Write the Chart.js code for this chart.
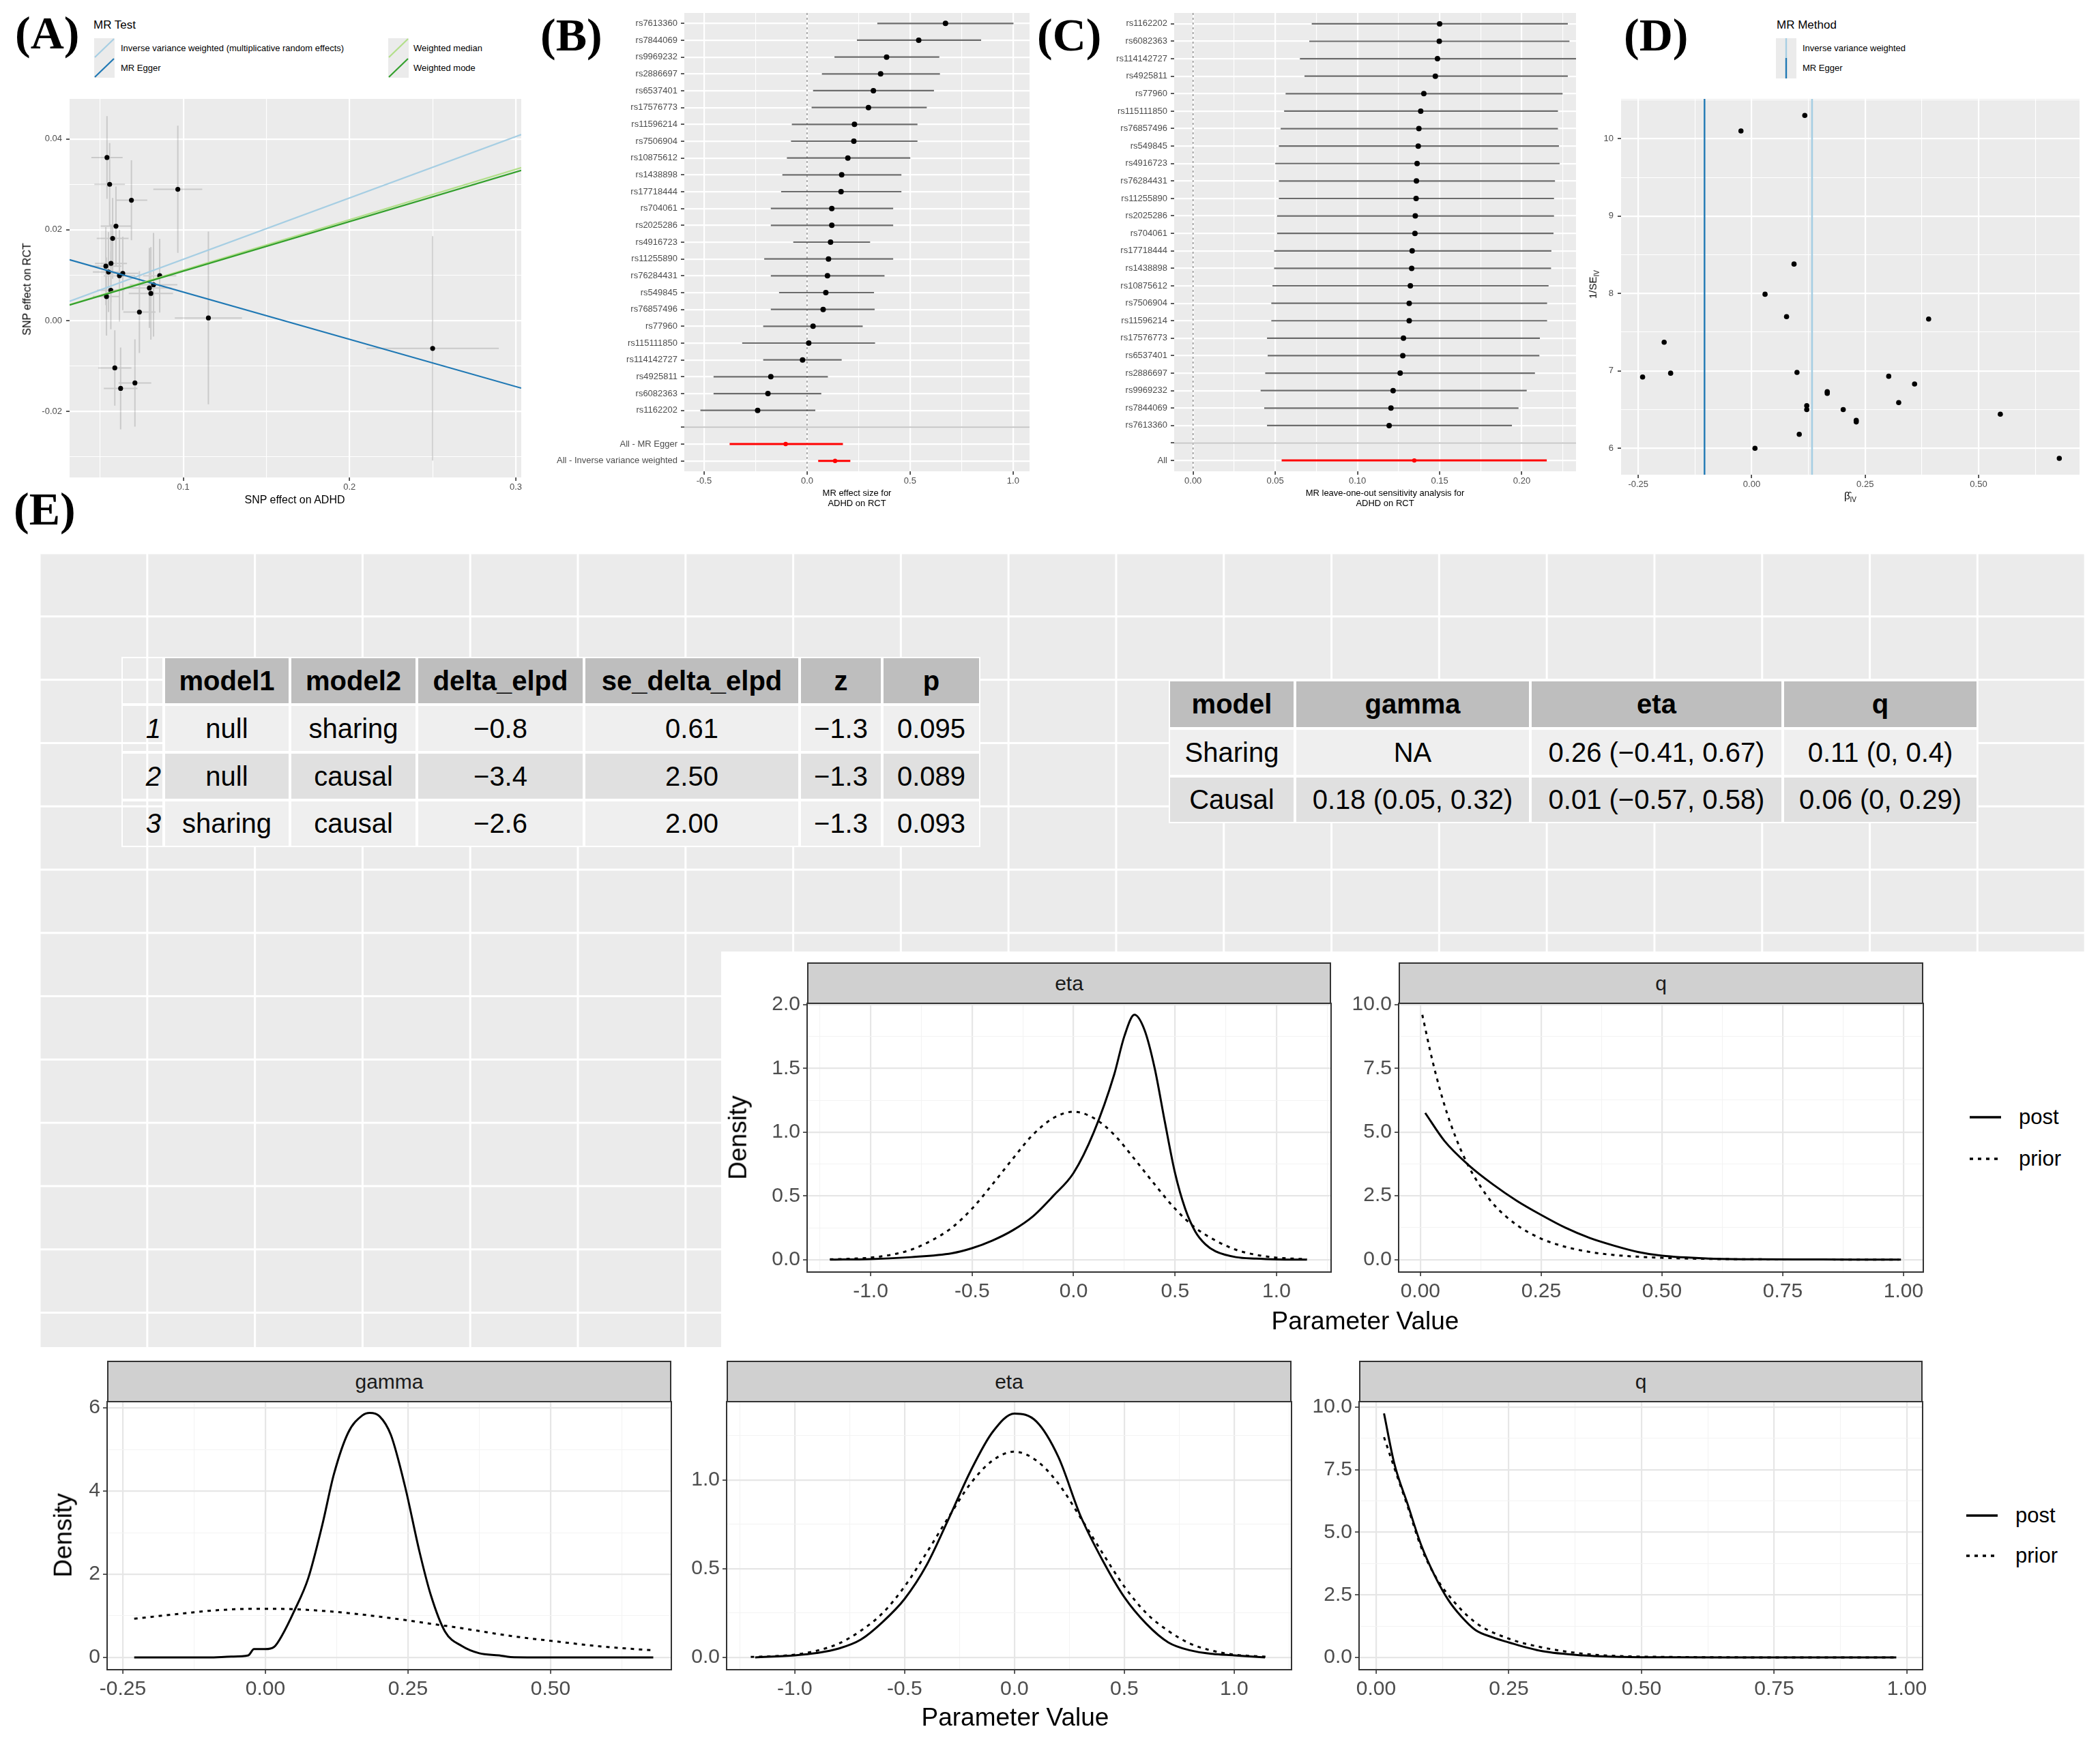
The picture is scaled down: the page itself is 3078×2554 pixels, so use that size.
<!DOCTYPE html>
<html>
<head>
<meta charset="utf-8">
<title>MR analysis of ADHD on RCT</title>
<script src="https://cdn.jsdelivr.net/npm/chart.js@4.4.1/dist/chart.umd.min.js"></script>
<style>
  html, body { margin: 0; padding: 0; background: #fff; }
  #page { position: relative; width: 3078px; height: 2554px; overflow: hidden; background: #fff;
          font-family: "Liberation Sans", Arial, Helvetica, sans-serif; }
  #page canvas { position: absolute; }
  .panel-e { position: absolute; left: 58px; top: 811px; width: 2998px; height: 1206px; background-color: #ebebeb;
    background-image: linear-gradient(to right, #fff 3px, transparent 3px), linear-gradient(to bottom, #fff 3px, transparent 3px);
    background-size: 157.8px 92.8px; background-position: -1.5px -1.5px; }
  .white { position: absolute; background: #fff; }
</style>
</head>
<body>
<div id="page">
  <div class="panel-e"></div>
  <div class="white" style="left:1057px;top:1395px;width:2021px;height:585px;"></div>
  <div class="white" style="left:0;top:1975px;width:3078px;height:579px;"></div>
</div>
<script>
/* ==========================================================================
   MR figure: scatter (A), forest (B), leave-one-out (C), funnel (D), CAUSE (E)
   ========================================================================== */

// --- (A) SNP effects: exposure (ADHD) vs outcome (RCT) ---
const aBx  = [0.0541,0.0557,0.0688,0.0967,0.0595,0.0575,0.0534,0.0565,0.0550,0.0616,0.0636,0.0564,0.0538,0.0858,0.0821,0.0796,0.0805,0.0736,0.1151,0.2500,0.0588,0.0709,0.0623];
const aBy  = [0.0359,0.0300,0.0265,0.0289,0.0208,0.0181,0.0120,0.0126,0.0107,0.0099,0.0104,0.0067,0.0053,0.0099,0.0079,0.0072,0.0060,0.0019,0.0006,-0.0061,-0.0104,-0.0137,-0.0149];
const aSeX = [0.0094,0.0092,0.0095,0.0147,0.0092,0.0096,0.0094,0.0096,0.0094,0.0095,0.0094,0.0082,0.0082,0.0100,0.0143,0.0133,0.0133,0.0097,0.0202,0.0398,0.0100,0.0098,0.0101];
const aSeY = [0.0091,0.0091,0.0088,0.0140,0.0087,0.0089,0.0086,0.0086,0.0088,0.0101,0.0081,0.0086,0.0086,0.0081,0.0114,0.0088,0.0102,0.0090,0.0190,0.0247,0.0083,0.0096,0.0090];
const mrNames      = ['Inverse variance weighted (multiplicative random effects)', 'MR Egger', 'Weighted median', 'Weighted mode'];
const mrColors     = ['#a6cee3', '#1f78b4', '#b2df8a', '#33a02c'];
const mrSlopes     = [0.135, -0.104, 0.111, 0.109];
const mrIntercepts = [0, 0.0167, 0, 0];
const aXTicks = [0.1, 0.2, 0.3];
const aXLabels = ['0.1', '0.2', '0.3'];
const aYTicks = [-0.02, 0, 0.02, 0.04];
const aYLabels = ['-0.02', '0.00', '0.02', '0.04'];

// --- (B) single-SNP forest ---
const bLabels = ['rs7613360','rs7844069','rs9969232','rs2886697','rs6537401','rs17576773','rs11596214','rs7506904','rs10875612','rs1438898','rs17718444','rs704061','rs2025286','rs4916723','rs11255890','rs76284431','rs549845','rs76857496','rs77960','rs115111850','rs114142727','rs4925811','rs6082363','rs1162202','','All - MR Egger','All - Inverse variance weighted'];
const bEst = [0.672,0.542,0.386,0.357,0.322,0.298,0.230,0.227,0.198,0.168,0.165,0.120,0.120,0.114,0.104,0.099,0.091,0.078,0.029,0.008,-0.022,-0.176,-0.190,-0.240,null,-0.104,0.136];
const bLo  = [0.341,0.242,0.133,0.072,0.029,0.022,-0.074,-0.078,-0.098,-0.120,-0.126,-0.176,-0.176,-0.067,-0.208,-0.176,-0.136,-0.176,-0.213,-0.315,-0.213,-0.454,-0.454,-0.518,null,-0.376,0.054];
const bHi  = [1.002,0.845,0.642,0.645,0.616,0.581,0.536,0.536,0.501,0.458,0.458,0.418,0.418,0.306,0.418,0.376,0.325,0.328,0.270,0.330,0.168,0.101,0.069,0.040,null,0.174,0.210];
const bXTicks = [-0.5, 0, 0.5, 1.0];
const bXLabels = ['-0.5', '0.0', '0.5', '1.0'];

// --- (C) leave-one-out ---
const cLabels = ['rs1162202','rs6082363','rs114142727','rs4925811','rs77960','rs115111850','rs76857496','rs549845','rs4916723','rs76284431','rs11255890','rs2025286','rs704061','rs17718444','rs1438898','rs10875612','rs7506904','rs11596214','rs17576773','rs6537401','rs2886697','rs9969232','rs7844069','rs7613360','','All'];
const cEst = [0.1500,0.1498,0.1487,0.1474,0.1404,0.1385,0.1374,0.1370,0.1363,0.1359,0.1357,0.1352,0.1350,0.1333,0.1330,0.1322,0.1315,0.1315,0.1280,0.1276,0.1260,0.1217,0.1204,0.1193,null,0.1346];
const cLo  = [0.0722,0.0707,0.0650,0.0678,0.0563,0.0554,0.0533,0.0522,0.0500,0.0522,0.0522,0.0511,0.0511,0.0493,0.0493,0.0483,0.0476,0.0476,0.0450,0.0454,0.0439,0.0411,0.0433,0.0450,null,0.0539];
const cHi  = [0.2280,0.2290,0.2360,0.2280,0.2248,0.2220,0.2220,0.2226,0.2230,0.2202,0.2196,0.2196,0.2193,0.2180,0.2178,0.2163,0.2154,0.2154,0.2110,0.2107,0.2080,0.2030,0.1980,0.1940,null,0.2152];
const cXTicks = [0, 0.05, 0.1, 0.15, 0.2];
const cXLabels = ['0.00', '0.05', '0.10', '0.15', '0.20'];

// --- (D) funnel ---
const dBetaIV = [-0.0237,0.117,0.0933,0.0294,0.0768,0.390,-0.193,-0.2405,-0.1787,0.0998,0.302,0.359,0.1665,0.1665,0.324,0.1213,0.1213,0.2017,0.2304,0.2304,0.1048,0.548,0.0072,0.678];
const dInvSE  = [10.10,10.30,8.38,7.99,7.70,7.67,7.37,6.92,6.97,6.98,6.93,6.83,6.71,6.73,6.59,6.55,6.50,6.50,6.36,6.34,6.18,6.44,6.00,5.87];
const dMethodNames  = ['Inverse variance weighted', 'MR Egger'];
const dMethodColors = ['#a6cee3', '#1f78b4'];
const dMethodEst    = [0.133, -0.104];
const dXTicks = [-0.25, 0, 0.25, 0.5];
const dXLabels = ['-0.25', '0.00', '0.25', '0.50'];
const dYTicks = [6, 7, 8, 9, 10];
const dYLabels = ['6', '7', '8', '9', '10'];

// --- (E) CAUSE model comparison and estimates ---
const cmpModel1 = ['null', 'null', 'sharing'];
const cmpModel2 = ['sharing', 'causal', 'causal'];
const cmpDeltaElpd = [-0.8, -3.4, -2.6];
const cmpSeDeltaElpd = [0.61, 2.50, 2.00];
const cmpZ = [-1.3, -1.3, -1.3];
const cmpP = [0.095, 0.089, 0.093];
const estModels = ['Sharing', 'Causal'];
const estGamma = [null, [0.18, 0.05, 0.32]];
const estEta = [[0.26, -0.41, 0.67], [0.01, -0.57, 0.58]];
const estQ = [[0.11, 0, 0.4], [0.06, 0, 0.29]];

// sharing model densities
const etaPostX1 = [-1.2,-1.0,-0.8,-0.6,-0.5,-0.4,-0.3,-0.2,-0.1,0.0,0.1,0.2,0.25,0.3,0.35,0.4,0.45,0.5,0.55,0.6,0.65,0.7,0.8,0.9,1.0,1.15];
const etaPostY1 = [0.0,0.005,0.02,0.05,0.09,0.15,0.23,0.34,0.5,0.68,1.0,1.45,1.75,1.92,1.80,1.50,1.08,0.68,0.40,0.22,0.12,0.065,0.02,0.008,0.002,0.0];
const etaPriorX = [-1.2,-1.1,-1.0,-0.9,-0.8,-0.7,-0.6,-0.5,-0.4,-0.3,-0.2,-0.1,0.0,0.1,0.2,0.3,0.4,0.5,0.6,0.7,0.8,0.9,1.0,1.1,1.15];
const etaPriorY = [0.003,0.007,0.016,0.038,0.078,0.15,0.25,0.40,0.59,0.79,0.98,1.11,1.16,1.11,0.98,0.79,0.59,0.40,0.25,0.15,0.078,0.038,0.016,0.007,0.004];
const qPostX1  = [0.01,0.05,0.1,0.15,0.2,0.25,0.3,0.35,0.4,0.45,0.5,0.6,0.7,0.8,0.9,0.99];
const qPostY1  = [5.75,4.65,3.7,2.95,2.3,1.75,1.25,0.85,0.55,0.3,0.15,0.04,0.01,0.003,0.001,0.0];
const qPriorX1 = [0.004,0.025,0.05,0.075,0.1,0.125,0.15,0.2,0.25,0.3,0.35,0.4,0.5,0.6,0.7,0.8,0.9,1.0];
const qPriorY1 = [9.6,7.8,6.05,4.7,3.65,2.85,2.2,1.35,0.82,0.5,0.3,0.18,0.07,0.025,0.009,0.003,0.001,0.0];

// causal model densities
const gammaPostX  = [-0.23,-0.1,-0.06,-0.03,-0.02,0.0,0.015,0.03,0.05,0.075,0.1,0.12,0.145,0.17,0.183,0.2,0.22,0.245,0.27,0.29,0.315,0.345,0.375,0.41,0.43,0.5,0.68];
const gammaPostY  = [0,0,0.02,0.05,0.2,0.2,0.25,0.55,1.1,1.9,3.2,4.4,5.4,5.82,5.88,5.8,5.35,4.1,2.55,1.5,0.62,0.27,0.1,0.05,0.01,0,0];
const gammaPriorX = [-0.23,-0.15,-0.1,-0.05,0,0.05,0.1,0.15,0.2,0.25,0.3,0.35,0.4,0.45,0.5,0.55,0.6,0.68];
const gammaPriorY = [0.93,1.05,1.12,1.16,1.17,1.16,1.12,1.06,0.98,0.89,0.79,0.69,0.58,0.48,0.40,0.32,0.25,0.17];
const etaPostX2 = [-1.18,-1.0,-0.9,-0.8,-0.7,-0.6,-0.5,-0.4,-0.3,-0.2,-0.1,0.0,0.1,0.2,0.3,0.4,0.5,0.6,0.7,0.8,0.9,1.0,1.14];
const etaPostY2 = [0,0.012,0.025,0.05,0.1,0.2,0.33,0.52,0.78,1.05,1.27,1.375,1.33,1.13,0.8,0.55,0.34,0.19,0.085,0.04,0.02,0.012,0];
const qPostX2  = [0.015,0.034,0.06,0.085,0.11,0.136,0.16,0.187,0.22,0.25,0.313,0.39,0.466,0.55,0.7,0.85,0.98];
const qPostY2  = [9.75,7.78,6.09,4.49,3.29,2.3,1.65,1.1,0.8,0.6,0.25,0.08,0.02,0.005,0,0,0];
const qPriorX2 = [0.015,0.034,0.06,0.085,0.11,0.136,0.187,0.25,0.313,0.39,0.466,0.55,0.7,0.85,0.98];
const qPriorY2 = [8.8,7.6,6.0,4.4,3.3,2.5,1.4,0.75,0.4,0.15,0.05,0.02,0.003,0,0];

const etaXTicks = [-1, -0.5, 0, 0.5, 1];
const etaXLabels = ['-1.0', '-0.5', '0.0', '0.5', '1.0'];
const qXTicks = [0, 0.25, 0.5, 0.75, 1];
const qXLabels = ['0.00', '0.25', '0.50', '0.75', '1.00'];
const qYTicks = [0, 2.5, 5, 7.5, 10];
const qYLabels = ['0.0', '2.5', '5.0', '7.5', '10.0'];

// --- Setup ---
const FONT = '"Liberation Sans", Arial, Helvetica, sans-serif';
Chart.defaults.font.family = FONT;
const page = document.getElementById('page');

// fills the plotting area and draws the theme_bw frame
const panelDeco = {
  id: 'panelDeco',
  beforeDraw(ch, args, o) {
    if (!o.fill) return;
    const { ctx, chartArea: a } = ch;
    ctx.save(); ctx.fillStyle = o.fill;
    ctx.fillRect(a.left, a.top, a.right - a.left, a.bottom - a.top);
    ctx.restore();
  },
  afterDraw(ch, args, o) {
    if (!o.frame) return;
    const { ctx, chartArea: a } = ch;
    ctx.save(); ctx.strokeStyle = o.frame; ctx.lineWidth = 2;
    ctx.strokeRect(a.left, a.top, a.right - a.left, a.bottom - a.top);
    ctx.restore();
  }
};
Chart.register(panelDeco);

function el(tag, css, html) {
  const e = document.createElement(tag);
  e.style.cssText = 'position:absolute;' + css;
  if (html != null) e.innerHTML = html;
  page.appendChild(e);
  return e;
}

function txt(html, x, y, o = {}) {
  const ax = o.align === 'left' ? '0' : o.align === 'right' ? '-100%' : '-50%';
  const rot = o.rot ? ` rotate(${o.rot}deg)` : '';
  return el('div', `left:${x}px;top:${y}px;white-space:nowrap;font-size:${o.size || 13}px;color:${o.color || '#000'};` +
    `line-height:${o.lh || 1.15};font-family:${o.family || FONT};font-weight:${o.weight || 'normal'};text-align:center;` +
    `transform-origin:center;transform:translate(${ax},-50%)${rot};`, html);
}

function panelLabel(s, x, y) {
  el('div', `left:${x}px;top:${y}px;font:bold 68px/68px "Liberation Serif","Times New Roman",serif;color:#000;`, s);
}

function svgAt(x, y, w, h, inner) {
  el('div', `left:${x}px;top:${y}px;width:${w}px;height:${h}px;`,
    `<svg width="${w}" height="${h}" xmlns="http://www.w3.org/2000/svg">${inner}</svg>`);
}

// tick list with ggplot-style minor breaks between majors
function tickList(majors, labels, minorStep, lo, hi) {
  const out = majors.map((v, i) => ({ value: v, lab: labels[i], minor: false }));
  if (minorStep) {
    const k0 = Math.ceil((lo - majors[0]) / minorStep - 1e-9);
    const k1 = Math.floor((hi - majors[0]) / minorStep + 1e-9);
    for (let k = k0; k <= k1; k++) {
      if (k % 2 === 0) continue;
      out.push({ value: majors[0] + k * minorStep, lab: '', minor: true });
    }
  }
  return out.sort((a, b) => a.value - b.value);
}

const GRAY_THEME = { font: 13, color: '#4d4d4d', tickColor: '#333333', tl: 5, majorColor: '#ffffff', minorColor: '#ffffff', majorW: 2.2, minorW: 1.1 };
const BW_THEME   = { font: 30, color: '#4d4d4d', tickColor: '#333333', tl: 6, majorColor: '#e6e6e6', minorColor: '#f3f3f3', majorW: 2.2, minorW: 1.1 };

function axis(theme, o) {
  const t = Object.assign({}, theme, o);
  const list = t.list;
  return {
    type: 'linear', min: t.min, max: t.max, reverse: !!t.reverse,
    afterBuildTicks: s => { s.ticks = list.map(k => ({ value: k.value, lab: k.lab, minor: k.minor })); },
    afterFit: s => { if (s.isHorizontal()) s.height = t.size; else s.width = t.size; },
    ticks: {
      autoSkip: false, maxRotation: 0, minRotation: 0, includeBounds: false, padding: t.pad,
      color: t.color, font: { size: t.font, family: FONT },
      callback: (v, i, arr) => (arr[i] ? arr[i].lab : '')
    },
    grid: {
      color: c => (c.tick && c.tick.minor) ? t.minorColor : t.majorColor,
      lineWidth: c => (c.tick && c.tick.minor) ? t.minorW : t.majorW,
      tickColor: c => (c.tick && c.tick.minor) ? 'rgba(0,0,0,0)' : t.tickColor,
      tickLength: t.tl, tickWidth: 1.6, drawTicks: true
    },
    border: { display: false }
  };
}

// box = plotting area in page pixels, pad = room for axes around it
function plot(box, pad, datasets, xAxis, yAxis, deco) {
  const W = box.r - box.l + pad.l + pad.r;
  const H = box.b - box.t + pad.t + pad.b;
  const cv = document.createElement('canvas');
  cv.width = W; cv.height = H;
  cv.style.cssText = `left:${box.l - pad.l}px;top:${box.t - pad.t}px;width:${W}px;height:${H}px;`;
  page.appendChild(cv);
  xAxis.afterFit = s => { s.height = pad.b; };
  yAxis.afterFit = s => { s.width = pad.l; };
  return new Chart(cv, {
    type: 'scatter',
    data: { datasets },
    options: {
      responsive: false, animation: false, events: [],
      layout: { padding: { left: 0, top: pad.t, right: pad.r, bottom: 0 } },
      plugins: { legend: { display: false }, tooltip: { enabled: false }, panelDeco: deco },
      scales: { x: xAxis, y: yAxis }
    }
  });
}

const GAP = { x: null, y: null };
function lineSet(data, color, width, extra) {
  return Object.assign({ data, showLine: true, borderColor: color, borderWidth: width, pointRadius: 0, tension: 0, fill: false }, extra || {});
}
function pointSet(data, color, r, extra) {
  return Object.assign({ data, showLine: false, pointRadius: r, pointBackgroundColor: color, pointBorderColor: color, pointBorderWidth: 0 }, extra || {});
}

// --- (A) MR scatter ---
(function () {
  const box = { l: 102, t: 145, r: 764, b: 700 };
  const xMin = 0.0316, xMax = 0.3033, yMin = -0.0345, yMax = 0.0488;
  const bars = [];
  aBx.forEach((x, i) => {
    const y = aBy[i];
    bars.push({ x: x - aSeX[i], y }, { x: x + aSeX[i], y }, GAP, { x, y: y - aSeY[i] }, { x, y: y + aSeY[i] }, GAP);
  });
  const sets = [
    lineSet(bars, 'rgba(70,70,70,0.2)', 2, { order: 3 }),
    pointSet(aBx.map((x, i) => ({ x, y: aBy[i] })), '#000', 3.6, { order: 2 })
  ];
  mrNames.forEach((n, k) => {
    sets.push(lineSet([{ x: xMin, y: mrIntercepts[k] + mrSlopes[k] * xMin }, { x: xMax, y: mrIntercepts[k] + mrSlopes[k] * xMax }],
      mrColors[k], 2.2, { order: 1 - k * 0.1 }));
  });
  plot(box, { l: 60, t: 15, r: 20, b: 30 }, sets,
    axis(GRAY_THEME, { min: xMin, max: xMax, pad: 2, list: tickList(aXTicks, aXLabels, 0.05, xMin, xMax) }),
    axis(GRAY_THEME, { min: yMin, max: yMax, pad: 6, list: tickList(aYTicks, aYLabels, 0.01, yMin, yMax) }),
    { fill: '#ebebeb' });

  txt('SNP effect on ADHD', 432, 733, { size: 16 });
  txt('SNP effect on RCT', 40, 424, { size: 16, rot: -90 });
  // legend
  txt('MR Test', 137, 37, { size: 17, align: 'left' });
  const keyX = [138, 138, 569, 569], keyY = [56, 85, 56, 85], textX = [177, 177, 606, 606];
  mrNames.forEach((n, k) => {
    svgAt(keyX[k], keyY[k], 30, 29, `<rect width="30" height="29" fill="#ebebeb"/><line x1="1" y1="28" x2="29" y2="1" stroke="${mrColors[k]}" stroke-width="2.2"/>`);
    txt(n, textX[k], keyY[k] + 15, { size: 13, align: 'left' });
  });
})();

// --- (B) and (C) forest plots ---
function forest(box, pad, labels, est, lo, hi, xMin, xMax, yMin, yMax, xTicks, xLabels, minorStep) {
  const bars = [], sumBars = [], pts = [], sumPts = [];
  labels.forEach((lab, i) => {
    if (est[i] === null) return;
    const isSum = lab.indexOf('All') === 0;
    (isSum ? sumBars : bars).push({ x: lo[i], y: i }, { x: hi[i], y: i }, GAP);
    (isSum ? sumPts : pts).push({ x: est[i], y: i });
  });
  const sep = labels.indexOf('');
  const sets = [
    lineSet([{ x: 0, y: yMin }, { x: 0, y: yMax }], '#8a8a8a', 1.4, { borderDash: [3, 4], order: 6 }),
    lineSet([{ x: xMin, y: sep }, { x: xMax, y: sep }], '#c4c4c4', 2, { order: 5 }),
    lineSet(bars, 'rgba(70,70,70,0.8)', 2.2, { order: 4 }),
    pointSet(pts, '#000', 4, { order: 3 }),
    lineSet(sumBars, '#ff0000', 3, { order: 2 }),
    pointSet(sumPts, '#ff0000', 3.2, { order: 1 })
  ];
  plot(box, pad, sets,
    axis(GRAY_THEME, { min: xMin, max: xMax, pad: 2, list: tickList(xTicks, xLabels, minorStep, xMin, xMax) }),
    axis(GRAY_THEME, { min: yMin, max: yMax, pad: 5, reverse: true, list: labels.map((l, i) => ({ value: i, lab: l, minor: false })) }),
    { fill: '#ebebeb' });
}

forest({ l: 1003, t: 19, r: 1509, b: 691 }, { l: 215, t: 15, r: 10, b: 25 },
  bLabels, bEst, bLo, bHi, -0.596, 1.080, -0.62, 26.62, bXTicks, bXLabels, 0.25);
txt('MR effect size for<br>ADHD on RCT', 1256, 730, { size: 13, lh: '15px' });

forest({ l: 1721, t: 19, r: 2310, b: 691 }, { l: 110, t: 15, r: 10, b: 25 },
  cLabels, cEst, cLo, cHi, -0.0115, 0.233, -0.62, 25.62, cXTicks, cXLabels, 0.025);
txt('MR leave-one-out sensitivity analysis for<br>ADHD on RCT', 2030, 730, { size: 13, lh: '15px' });

// --- (D) funnel ---
(function () {
  const box = { l: 2376, t: 145, r: 3048, b: 696 };
  const xMin = -0.288, xMax = 0.7226, yMin = 5.658, yMax = 10.514;
  const sets = [pointSet(dBetaIV.map((x, i) => ({ x, y: dInvSE[i] })), '#000', 3.8, { order: 0 })];
  dMethodEst.forEach((v, k) => {
    sets.push(lineSet([{ x: v, y: yMin }, { x: v, y: yMax }], dMethodColors[k], k === 0 ? 2.6 : 2.4, { order: 1 + k }));
  });
  plot(box, { l: 30, t: 15, r: 20, b: 25 }, sets,
    axis(GRAY_THEME, { min: xMin, max: xMax, pad: 2, list: tickList(dXTicks, dXLabels, 0.125, xMin, xMax) }),
    axis(GRAY_THEME, { min: yMin, max: yMax, pad: 6, list: tickList(dYTicks, dYLabels, 0.5, yMin, yMax) }),
    { fill: '#ebebeb' });
  txt('β&#770;<sub style="font-size:10px">IV</sub>', 2712, 728, { size: 15 });
  txt('1/SE<sub style="font-size:10px">IV</sub>', 2336, 417, { size: 15, rot: -90 });
  txt('MR Method', 2604, 37, { size: 17, align: 'left' });
  const keyY = [56, 85];
  dMethodNames.forEach((n, k) => {
    svgAt(2603, keyY[k], 30, 30, `<rect width="30" height="30" fill="#ebebeb"/><line x1="15" y1="0" x2="15" y2="30" stroke="${dMethodColors[k]}" stroke-width="2.4"/>`);
    txt(n, 2642, keyY[k] + 15, { size: 13, align: 'left' });
  });
})();

// --- (E) tables ---
const fmt = v => String(v).replace('-', '\u2212');
const fmtCI = t => t === null ? 'NA' : `${fmt(t[0])} (${fmt(t[1])}, ${fmt(t[2])})`;

function gridTable(xb, yb, cells) {
  cells.forEach((row, j) => row.forEach((c, i) => {
    el('div', `left:${xb[i]}px;top:${yb[j]}px;width:${xb[i + 1] - xb[i]}px;height:${yb[j + 1] - yb[j]}px;box-sizing:border-box;` +
      `border:2px solid #fff;background:${c.bg};display:flex;align-items:center;justify-content:${c.right ? 'flex-end' : 'center'};` +
      `padding-right:${c.right ? 2 : 0}px;font-size:40px;color:#000;white-space:nowrap;font-weight:${c.bold ? 'bold' : 'normal'};` +
      `font-style:${c.italic ? 'italic' : 'normal'};`, c.t);
  }));
}

(function () {
  const HEAD = '#bebebe', ODD = '#efefef', EVEN = '#e0e0e0';
  const head = ['', 'model1', 'model2', 'delta_elpd', 'se_delta_elpd', 'z', 'p']
    .map((t, i) => ({ t, bg: i === 0 ? 'transparent' : HEAD, bold: true }));
  const rows = cmpModel1.map((m, j) => {
    const bg = j % 2 === 0 ? ODD : EVEN;
    return [
      { t: String(j + 1), bg: 'transparent', italic: true, right: true },
      { t: m, bg }, { t: cmpModel2[j], bg },
      { t: fmt(cmpDeltaElpd[j].toFixed(1)), bg },
      { t: cmpSeDeltaElpd[j].toFixed(2), bg },
      { t: fmt(cmpZ[j].toFixed(1)), bg },
      { t: cmpP[j].toFixed(3), bg }
    ];
  });
  gridTable([178, 240, 425, 611, 856, 1172, 1293, 1437], [963, 1033, 1103, 1173, 1242], [head].concat(rows));

  const head2 = ['model', 'gamma', 'eta', 'q'].map(t => ({ t, bg: HEAD, bold: true }));
  const rows2 = estModels.map((m, j) => {
    const bg = j % 2 === 0 ? ODD : EVEN;
    return [{ t: m, bg }, { t: fmtCI(estGamma[j]), bg }, { t: fmtCI(estEta[j]), bg }, { t: fmtCI(estQ[j]), bg }];
  });
  gridTable([1713, 1898, 2243, 2613, 2899], [997, 1068, 1138, 1207], [head2].concat(rows2));
})();

// --- (E) densities ---
const xy = (xs, ys) => xs.map((x, i) => ({ x, y: ys[i] }));

function density(box, label, xCfg, yCfg, post, prior) {
  el('div', `left:${box.l}px;top:${box.t - 60}px;width:${box.r - box.l}px;height:60px;box-sizing:border-box;background:#d0d0d0;` +
    `border:2px solid #333;border-bottom:none;display:flex;align-items:center;justify-content:center;font-size:30px;color:#1a1a1a;`, label);
  const sets = [
    lineSet(post, '#000', 3, { cubicInterpolationMode: 'monotone', order: 0 }),
    lineSet(prior, '#000', 3, { cubicInterpolationMode: 'monotone', borderDash: [5, 7], order: 1 })
  ];
  plot(box, { l: 110, t: 25, r: 12, b: 60 }, sets,
    axis(BW_THEME, Object.assign({ pad: 5 }, xCfg)),
    axis(BW_THEME, Object.assign({ pad: 4 }, yCfg)),
    { frame: '#333333' });
}

function legendLT(x, y1, y2) {
  svgAt(x, y1 - 10, 46, 20, '<line x1="0" y1="10" x2="46" y2="10" stroke="#000" stroke-width="3.5"/>');
  svgAt(x, y2 - 10, 46, 20, '<line x1="0" y1="10" x2="46" y2="10" stroke="#000" stroke-width="3.5" stroke-dasharray="5 7"/>');
  txt('post', x + 72, y1, { size: 31, align: 'left' });
  txt('prior', x + 72, y2, { size: 31, align: 'left' });
}

// sharing model (top)
density({ l: 1183, t: 1471, r: 1951, b: 1865 }, 'eta',
  { min: -1.3126, max: 1.269, list: tickList(etaXTicks, etaXLabels, 0.25, -1.3126, 1.269) },
  { min: -0.097, max: 2.01, list: tickList([0, 0.5, 1, 1.5, 2], ['0.0', '0.5', '1.0', '1.5', '2.0'], 0.25, -0.097, 2.01) },
  xy(etaPostX1, etaPostY1), xy(etaPriorX, etaPriorY));
density({ l: 2050, t: 1471, r: 2819, b: 1865 }, 'q',
  { min: -0.045, max: 1.041, list: tickList(qXTicks, qXLabels, 0.125, -0.045, 1.041) },
  { min: -0.49, max: 10.05, list: tickList(qYTicks, qYLabels, 1.25, -0.49, 10.05) },
  xy(qPostX1, qPostY1), xy(qPriorX1, qPriorY1));
txt('Density', 1082, 1668, { size: 37, rot: -90 });
txt('Parameter Value', 2001, 1937, { size: 37 });
legendLT(2887, 1638, 1699);

// causal model (bottom)
density({ l: 157, t: 2055, r: 984, b: 2448 }, 'gamma',
  { min: -0.2775, max: 0.7117, list: tickList([-0.25, 0, 0.25, 0.5], ['-0.25', '0.00', '0.25', '0.50'], 0.125, -0.2775, 0.7117) },
  { min: -0.295, max: 6.15, list: tickList([0, 2, 4, 6], ['0', '2', '4', '6'], 1, -0.295, 6.15) },
  xy(gammaPostX, gammaPostY), xy(gammaPriorX, gammaPriorY));
density({ l: 1065, t: 2055, r: 1893, b: 2448 }, 'eta',
  { min: -1.31, max: 1.261, list: tickList(etaXTicks, etaXLabels, 0.25, -1.31, 1.261) },
  { min: -0.069, max: 1.442, list: tickList([0, 0.5, 1], ['0.0', '0.5', '1.0'], 0.25, -0.069, 1.442) },
  xy(etaPostX2, etaPostY2), xy(etaPriorX, etaPriorY));
density({ l: 1992, t: 2055, r: 2818, b: 2448 }, 'q',
  { min: -0.032, max: 1.0296, list: tickList(qXTicks, qXLabels, 0.125, -0.032, 1.0296) },
  { min: -0.49, max: 10.22, list: tickList(qYTicks, qYLabels, 1.25, -0.49, 10.22) },
  xy(qPostX2, qPostY2), xy(qPriorX2, qPriorY2));
txt('Density', 93, 2251, { size: 37, rot: -90 });
txt('Parameter Value', 1488, 2518, { size: 37 });
legendLT(2882, 2222, 2281);

// --- Panel labels ---
panelLabel('(A)', 22, 14);
panelLabel('(B)', 792, 17);
panelLabel('(C)', 1520, 17);
panelLabel('(D)', 2380, 17);
panelLabel('(E)', 20, 712);
</script>
</body>
</html>
